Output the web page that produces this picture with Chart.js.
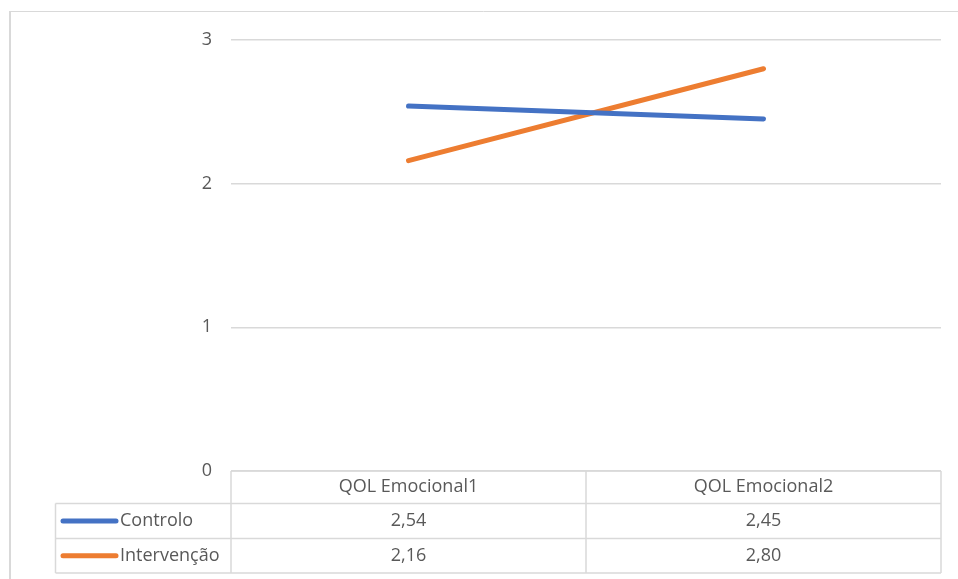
<!DOCTYPE html>
<html>
<head>
<meta charset="utf-8">
<script src="https://cdn.jsdelivr.net/npm/chart.js@4.4.1/dist/chart.umd.min.js"></script>
<style>
  html, body { margin: 0; padding: 0; background: #ffffff; }
  #wrap { width: 958px; height: 579px; position: relative; }
</style>
</head>
<body>
<div id="wrap"><canvas id="chart" width="958" height="579"></canvas></div>
<script>
// Categories and series values
const categories = ['QOL Emocional1', 'QOL Emocional2'];
const controlo = [2.54, 2.45];
const intervencao = [2.16, 2.80];
const seriesNames = ['Controlo', 'Intervenção'];
const seriesColors = ['#4472C4', '#ED7D31'];
const yTicks = [0, 1, 2, 3];

const FONT = '"Open Sans", "Liberation Sans", sans-serif';
const FONT_SIZE = 18;
const TEXT = '#595959';
const LINE = '#d9d9d9';

function fmt(v) { return v.toFixed(2).replace('.', ','); }

// Outer frame around the chart
const framePlugin = {
  id: 'frame',
  beforeDraw(chart) {
    const ctx = chart.ctx;
    ctx.save();
    ctx.strokeStyle = LINE;
    ctx.lineWidth = 1;
    ctx.beginPath();
    ctx.moveTo(9, 11.5);
    ctx.lineTo(chart.width, 11.5);
    ctx.stroke();
    ctx.lineWidth = 2;
    ctx.beginPath();
    ctx.moveTo(10, 11);
    ctx.lineTo(10, chart.height);
    ctx.stroke();
    ctx.restore();
  }
};

// Data table under the plot, aligned with the category scale
const dataTablePlugin = {
  id: 'dataTable',
  afterDraw(chart) {
    const ctx = chart.ctx;
    const xs = chart.scales.x;
    const area = chart.chartArea;
    const n = categories.length;
    const colW = area.width / n;
    const top = area.bottom;
    const rowsY = [top, top + 32.5, top + 67.5, top + 102];
    const tableLeft = 55.5;
    const series = [controlo, intervencao];

    ctx.save();
    ctx.strokeStyle = LINE;
    ctx.lineWidth = 1.5;
    // horizontal lines
    ctx.beginPath();
    ctx.moveTo(area.left, rowsY[0]); ctx.lineTo(area.right, rowsY[0]);
    for (let r = 1; r < rowsY.length; r++) {
      ctx.moveTo(tableLeft, rowsY[r]); ctx.lineTo(area.right, rowsY[r]);
    }
    // vertical lines
    for (let c = 0; c <= n; c++) {
      const x = area.left + c * colW;
      ctx.moveTo(x, rowsY[0]); ctx.lineTo(x, rowsY[3]);
    }
    ctx.moveTo(tableLeft, rowsY[1]); ctx.lineTo(tableLeft, rowsY[3]);
    ctx.stroke();

    ctx.fillStyle = TEXT;
    ctx.font = FONT_SIZE + 'px ' + FONT;
    ctx.textBaseline = 'middle';
    ctx.textAlign = 'center';
    categories.forEach((cat, i) => {
      const cx = xs.getPixelForValue(i);
      ctx.fillText(cat, cx, (rowsY[0] + rowsY[1]) / 2);
      series.forEach((vals, s) => {
        ctx.fillText(fmt(vals[i]), cx, (rowsY[s + 1] + rowsY[s + 2]) / 2);
      });
    });

    // legend keys and series names
    series.forEach((vals, s) => {
      const cy = (rowsY[s + 1] + rowsY[s + 2]) / 2;
      ctx.strokeStyle = seriesColors[s];
      ctx.lineWidth = 5;
      ctx.lineCap = 'round';
      ctx.beginPath();
      ctx.moveTo(63, cy); ctx.lineTo(116, cy);
      ctx.stroke();
      ctx.textAlign = 'left';
      ctx.fillText(seriesNames[s], 120, cy);
    });
    ctx.restore();
  }
};

new Chart(document.getElementById('chart'), {
  type: 'line',
  data: {
    labels: categories,
    datasets: [
      { label: seriesNames[0], data: controlo, borderColor: seriesColors[0], backgroundColor: seriesColors[0],
        borderWidth: 5, borderCapStyle: 'round', pointRadius: 0, tension: 0 },
      { label: seriesNames[1], data: intervencao, borderColor: seriesColors[1], backgroundColor: seriesColors[1],
        borderWidth: 5, borderCapStyle: 'round', pointRadius: 0, tension: 0 }
    ]
  },
  options: {
    responsive: false,
    animation: false,
    layout: { padding: { left: 0, right: 17, top: 40, bottom: 108 } },
    plugins: { legend: { display: false }, tooltip: { enabled: false } },
    scales: {
      x: { type: 'category', offset: true, display: false },
      y: {
        min: 0, max: 3,
        afterFit(scale) { scale.width = 231; },
        afterBuildTicks(scale) { scale.ticks = yTicks.map(v => ({ value: v })); },
        border: { display: false },
        grid: { color: LINE, lineWidth: 1.5, drawTicks: false },
        ticks: { color: TEXT, font: { family: FONT, size: FONT_SIZE }, padding: 19 }
      }
    }
  },
  plugins: [framePlugin, dataTablePlugin]
});
</script>
</body>
</html>
